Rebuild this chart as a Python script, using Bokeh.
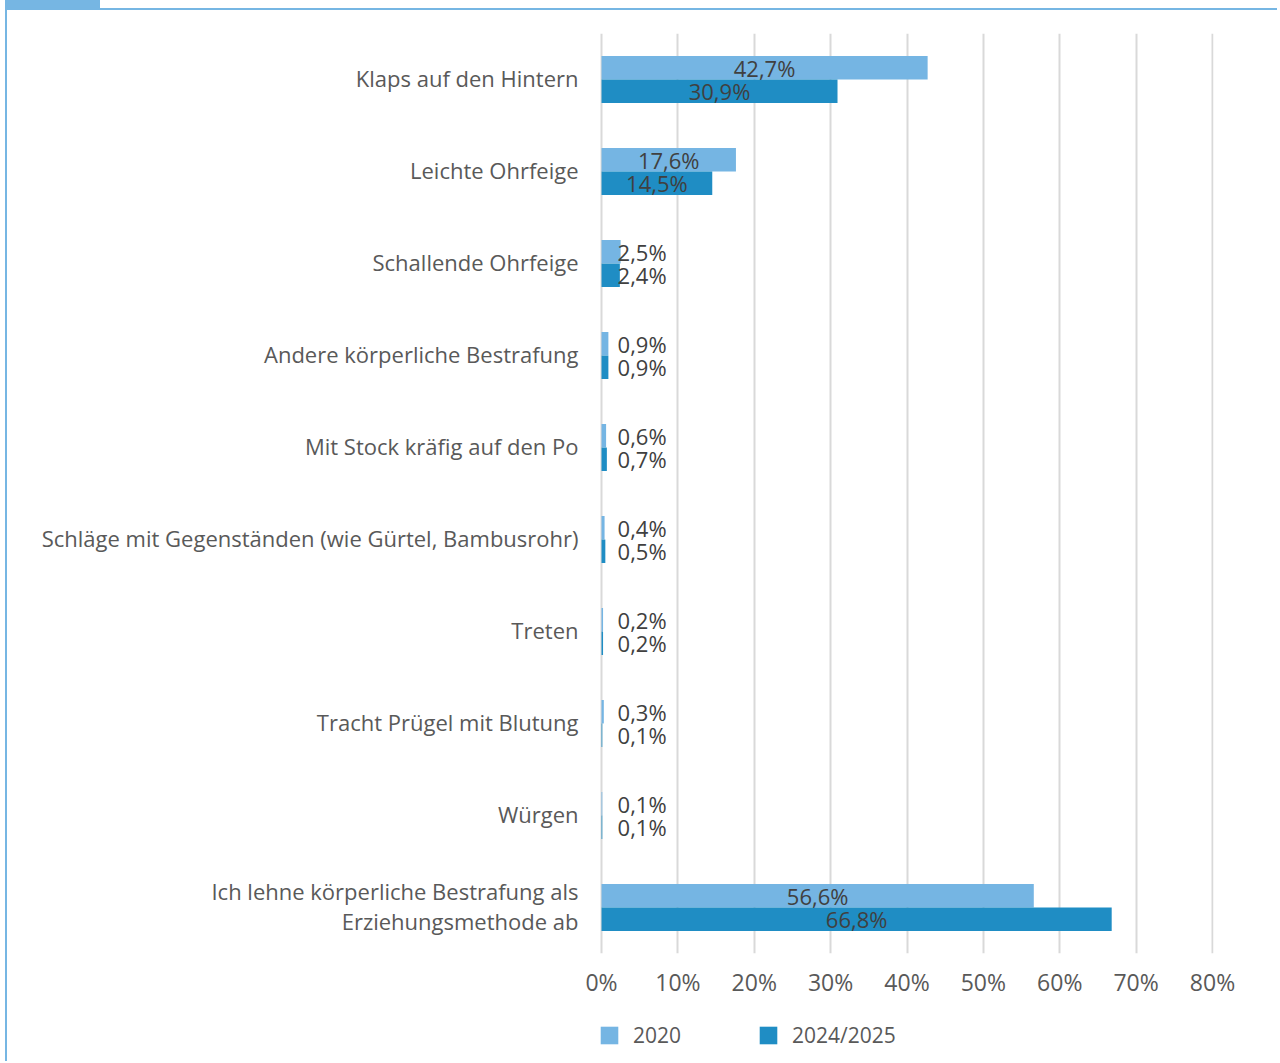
from bokeh.plotting import figure
from bokeh.models import ColumnDataSource, FactorRange, Range1d, FixedTicker, Legend, LegendItem, Div
from bokeh.layouts import column
from bokeh.transform import dodge
from bokeh.core.properties import value
from bokeh.embed import file_html
from bokeh.resources import INLINE

categories = [
    "Klaps auf den Hintern",
    "Leichte Ohrfeige",
    "Schallende Ohrfeige",
    "Andere körperliche Bestrafung",
    "Mit Stock kräfig auf den Po",
    "Schläge mit Gegenständen (wie Gürtel, Bambusrohr)",
    "Treten",
    "Tracht Prügel mit Blutung",
    "Würgen",
    "Ich lehne körperliche Bestrafung als Erziehungsmethode ab",
]
category_lines = [
    "Klaps auf den Hintern",
    "Leichte Ohrfeige",
    "Schallende Ohrfeige",
    "Andere körperliche Bestrafung",
    "Mit Stock kräfig auf den Po",
    "Schläge mit Gegenständen (wie Gürtel, Bambusrohr)",
    "Treten",
    "Tracht Prügel mit Blutung",
    "Würgen",
    "Ich lehne körperliche Bestrafung als\nErziehungsmethode ab",
]
values_2020 = [42.7, 17.6, 2.5, 0.9, 0.6, 0.4, 0.2, 0.3, 0.1, 56.6]
values_2024 = [30.9, 14.5, 2.4, 0.9, 0.7, 0.5, 0.2, 0.1, 0.1, 66.8]
series_names = ["2020", "2024/2025"]
x_ticks = [0, 10, 20, 30, 40, 50, 60, 70, 80]
x_tick_labels = ["0%", "10%", "20%", "30%", "40%", "50%", "60%", "70%", "80%"]

COL_LIGHT = "#75B5E3"
COL_DARK = "#1F8DC4"
COL_FRAME = "#76B6E3"
TXT_CAT = "#595959"
TXT_LBL = "#404040"
FONT = "Open Sans"
BAR_H = 0.255
OFF = 0.128
SMALL_LABEL_X = 2.1
CENTER_MIN = 10
X_START = -75.16
X_END = 80.13


def fmt(v):
    return f"{v:.1f}".replace(".", ",") + "%"


def label_cols(vals):
    xs, al = [], []
    for v in vals:
        if v >= CENTER_MIN:
            xs.append(v / 2.0)
            al.append("center")
        else:
            xs.append(SMALL_LABEL_X)
            al.append("left")
    return xs, al


lx20, la20 = label_cols(values_2020)
lx24, la24 = label_cols(values_2024)

src20 = ColumnDataSource(dict(cat=categories, v=values_2020, lx=lx20, al=la20,
                              t=[fmt(v) for v in values_2020]))
src24 = ColumnDataSource(dict(cat=categories, v=values_2024, lx=lx24, al=la24,
                              t=[fmt(v) for v in values_2024]))
src_cat = ColumnDataSource(dict(cat=categories, t=category_lines, x0=[0] * len(categories)))

p = figure(
    y_range=FactorRange(factors=list(reversed(categories)), range_padding=0),
    x_range=Range1d(X_START, X_END),
    width=1272, height=1000,
    output_backend="svg", toolbar_location=None,
    min_border_left=20, min_border_right=66,
    min_border_top=23, min_border_bottom=57,
)
p.styles = {"margin-left": "5px",
            "border-top": f"2px solid {COL_FRAME}",
            "border-left": f"2px solid {COL_FRAME}"}
p.outline_line_color = None
p.background_fill_color = "white"
p.border_fill_color = "white"

r20 = p.hbar(y=dodge("cat", OFF, range=p.y_range), right="v", left=0, height=BAR_H,
             source=src20, fill_color=COL_LIGHT, line_color=None)
r24 = p.hbar(y=dodge("cat", -OFF, range=p.y_range), right="v", left=0, height=BAR_H,
             source=src24, fill_color=COL_DARK, line_color=None)

for src, off in ((src20, OFF), (src24, -OFF)):
    p.text(x="lx", y=dodge("cat", off, range=p.y_range), text="t", source=src,
           text_align="al", text_baseline="middle", text_font=value(FONT),
           text_font_size="22px", text_color=TXT_LBL)

# category labels (left of the zero line)
p.text(x="x0", y="cat", text="t", source=src_cat, x_offset=-23, y_offset=-2,
       text_align="right", text_baseline="middle", text_font=value(FONT),
       text_font_size="22px", text_color=TXT_CAT, text_line_height=1.0)

p.yaxis.visible = False
p.ygrid.grid_line_color = None
p.xgrid.grid_line_color = "#D9D9D9"
p.xgrid.grid_line_width = 2

p.xaxis.ticker = FixedTicker(ticks=x_ticks)
p.xaxis.major_label_overrides = {t: l for t, l in zip(x_ticks, x_tick_labels)}
ax = p.xaxis[0]
ax.axis_line_color = None
ax.major_tick_line_color = None
ax.minor_tick_line_color = None
ax.major_label_text_font = FONT
ax.major_label_text_color = TXT_CAT
ax.major_label_text_font_size = "23px"
ax.major_label_standoff = 6

# legend strip below the chart
pl = figure(width=1272, height=53, output_backend="svg", toolbar_location=None,
            x_range=Range1d(0, 1), y_range=Range1d(0, 1),
            min_border_left=0, min_border_right=0, min_border_top=0, min_border_bottom=0)
pl.styles = {"margin-left": "5px", "border-left": f"2px solid {COL_FRAME}"}
pl.axis.visible = False
pl.grid.visible = False
pl.outline_line_color = None
pl.border_fill_color = "white"
swatch = ColumnDataSource(dict(x=[float("nan")], y=[float("nan")]))
g20 = pl.rect(x="x", y="y", width=0.1, height=0.1, source=swatch,
              fill_color=COL_LIGHT, line_color=None)
g24 = pl.rect(x="x", y="y", width=0.1, height=0.1, source=swatch,
              fill_color=COL_DARK, line_color=None)

leg = Legend(items=[LegendItem(label=series_names[0], renderers=[g20]),
                    LegendItem(label=series_names[1], renderers=[g24])],
             location=(571, 12), orientation="horizontal")
leg.glyph_width = 22
leg.glyph_height = 22
leg.label_height = 18
leg.label_width = 124
leg.label_standoff = 13
leg.spacing = 0
leg.padding = 0
leg.margin = 0
leg.border_line_color = None
leg.background_fill_alpha = 0
leg.label_text_font = FONT
leg.label_text_font_size = "21px"
leg.label_text_color = TXT_CAT
leg.click_policy = "none"
pl.add_layout(leg, "center")

tab = Div(text="", width=95, height=8, margin=(0, 0, 0, 5),
          styles={"background-color": COL_FRAME})
layout = column(tab, p, pl, spacing=0)

open("out.html", "w").write(file_html(layout, INLINE))
